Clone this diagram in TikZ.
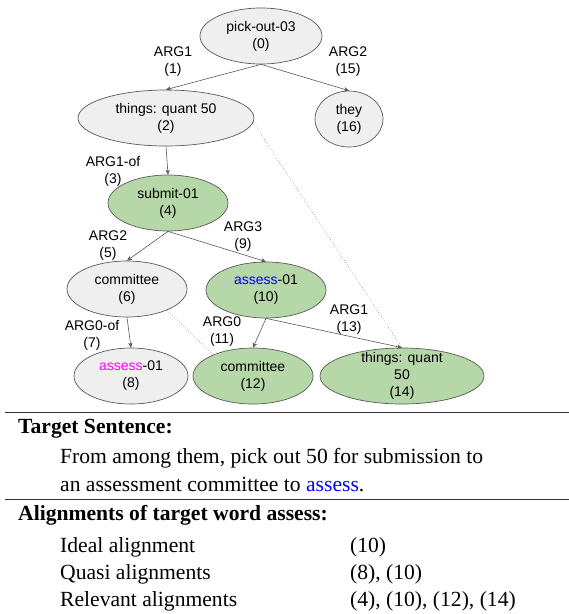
\documentclass[tikz,border=0pt]{standalone}
\usepackage{fontspec}
\setmainfont{Liberation Serif}
\newfontfamily\diagfont{Liberation Sans}
\usetikzlibrary{shapes.geometric,arrows.meta}
\definecolor{nodegray}{HTML}{EFEFEF}
\definecolor{nodegreen}{HTML}{B6D7A8}
\definecolor{linegray}{HTML}{595959}
\definecolor{wordblue}{HTML}{0000FF}
\definecolor{wordmagenta}{HTML}{FF00FF}
\begin{document}
\begin{tikzpicture}[x=1pt,y=-1pt,
  amrtext/.style={font=\diagfont\fontsize{14}{17}\selectfont, align=center, inner sep=0pt, text=black},
  amr/.style 2 args={ellipse, draw=linegray, line width=0.7pt, inner sep=0pt,
    minimum width=#1, minimum height=#2},
  plainnode/.style={amr={#1}{56}, fill=nodegray},
  hitnode/.style={amr={#1}{56}, fill=nodegreen},
  rel/.style={amrtext},
  edge/.style={draw=linegray, line width=0.6pt, -{Stealth[length=5pt,width=4.5pt]}},
  link/.style={draw=linegray, line width=0.5pt, dotted},
  rulestyle/.style={draw=black!80, line width=1pt},
  body/.style={font=\fontsize{21.6}{26}\selectfont, inner sep=0pt, anchor=base west},
  head/.style={body, font=\fontsize{21.6}{26}\selectfont\bfseries},
]
\useasboundingbox (0,0) rectangle (569,614);

% AMR graph nodes
\node[plainnode=122, label={[amrtext]center:pick-out-03\\(0)}] (n0) at (261,36) {};
\node[plainnode=176, label={[amrtext]center:things: quant 50\\(2)}] (n2) at (166,118) {};
\node[plainnode=68, label={[amrtext]center:they\\(16)}] (n16) at (349,119) {};
\node[hitnode=120, label={[amrtext]center:submit-01\\(4)}] (n4) at (168,203) {};
\node[plainnode=120, label={[amrtext]center:committee\\(6)}] (n6) at (127,289) {};
\node[hitnode=120, label={[amrtext]center:\textcolor{wordblue}{assess}-01\\(10)}] (n10) at (266,290) {};
\node[plainnode=114, label={[amrtext]center:\textcolor{wordmagenta}{assess}-01\\(8)}] (n8) at (131,376) {};
\node[hitnode=120, label={[amrtext]center:committee\\(12)}] (n12) at (253,376) {};
\node[hitnode=164, label={[amrtext]center:things: quant\\50\\(14)}] (n14) at (402,376) {};

% relation labels
\node[rel] (r1) at (173,62) {ARG1\\(1)};
\node[rel] (r15) at (348,62) {ARG2\\(15)};
\node[rel] (r3) at (113,171) {ARG1-of\\(3)};
\node[rel] (r5) at (108,246) {ARG2\\(5)};
\node[rel] (r9) at (243,237) {ARG3\\(9)};
\node[rel] (r7) at (92,335) {ARG0-of\\(7)};
\node[rel] (r11) at (222,332) {ARG0\\(11)};
\node[rel] (r13) at (349,320) {ARG1\\(13)};

% relations
\draw[edge] (n0.south) -- (n2.north);
\draw[edge] (n0.south) -- (n16.north);
\draw[edge] (n2.south) -- (n4.north);
\draw[edge] (n4.south) -- (n6.north);
\draw[edge] (n4.south) -- (n10.north);
\draw[edge] (n6.south) -- (n8.north);
\draw[edge] (n10.south) -- (n12.north);
\draw[edge] (n10.south) -- (n14.north);

% coreference links
\draw[link] (n2.-3) -- (n14.north);
\draw[link] (n6.-28) -- (n12.152);

% text panel
\coordinate (ruleAl) at (5,412);
\coordinate (ruleAr) at (569,412);
\coordinate (ruleBl) at (5,499);
\coordinate (ruleBr) at (569,499);
\draw[rulestyle] (ruleAl) -- (ruleAr);
\draw[rulestyle] (ruleBl) -- (ruleBr);

\node[head] (ts) at (18,433) {Target Sentence:};
\node[body] (s1) at (60,463) {From among them, pick out 50 for submission to};
\node[body] (s2) at (60,491) {an assessment committee to \textcolor{wordblue}{assess}.};

\node[head] (al) at (18,520) {Alignments of target word assess:};
\node[body] (a1) at (60,552) {Ideal alignment};
\node[body] (v1) at (350,552) {(10)};
\node[body] (a2) at (60,579) {Quasi alignments};
\node[body] (v2) at (350,579) {(8), (10)};
\node[body] (a3) at (60,606) {Relevant alignments};
\node[body] (v3) at (350,606) {(4), (10), (12), (14)};
\end{tikzpicture}
\end{document}
